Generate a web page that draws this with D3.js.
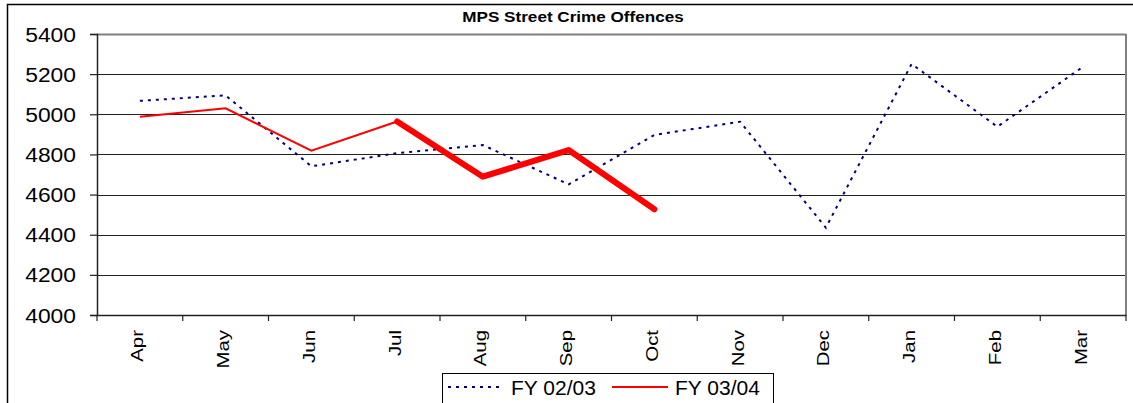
<!DOCTYPE html>
<html>
<head>
<meta charset="utf-8">
<title>MPS Street Crime Offences</title>
<script src="https://d3js.org/d3.v7.min.js"></script>
<style>
  body { margin: 0; background: #fff; }
  svg { display: block; font-family: "Liberation Sans", Arial, sans-serif; }
</style>
</head>
<body>
<div id="chart"></div>
<script>
// data
var months = ["Apr", "May", "Jun", "Jul", "Aug", "Sep", "Oct", "Nov", "Dec", "Jan", "Feb", "Mar"];
var fy0203 = [5067, 5094, 4741, 4806, 4847, 4651, 4897, 4963, 4435, 5251, 4938, 5237];
var fy0304 = [4988, 5030, 4819, 4964, 4689, 4822, 4527];
var yTicks = [4000, 4200, 4400, 4600, 4800, 5000, 5200, 5400];
var seriesNames = ["FY 02/03", "FY 03/04"];

var W = 1133, H = 403;
var margin = { top: 34, right: 7, bottom: 88, left: 97 },
  width = W - margin.left - margin.right,
  height = H - margin.top - margin.bottom;

var svg = d3.select("#chart").append("svg")
  .attr("width", W)
  .attr("height", H);

// outer frame (only top & left visible)
svg.append("rect")
  .attr("x", 7.5).attr("y", 4.5)
  .attr("width", W + 20).attr("height", H + 20)
  .attr("fill", "none").attr("stroke", "#000").attr("stroke-width", 1.5);

svg.append("text")
  .attr("transform", "translate(573,22) scale(1.14,1)")
  .attr("text-anchor", "middle")
  .style("font-size", "15px").style("font-weight", "bold")
  .text("MPS Street Crime Offences");

var g = svg.append("g")
  .attr("transform", "translate(" + margin.left + "," + margin.top + ")");

var x = d3.scaleBand().domain(months).range([0, width]);
var y = d3.scaleLinear().domain([4000, 5400]).range([height, 0]);

// gridlines
g.selectAll(".grid")
  .data(yTicks.slice(1))
  .enter().append("line")
  .attr("x1", 0).attr("x2", width)
  .attr("y1", function (d) { return Math.round(y(d)) + 0.5; })
  .attr("y2", function (d) { return Math.round(y(d)) + 0.5; })
  .attr("stroke", function (d) { return d === 5400 ? "#808080" : "#222"; })
  .attr("stroke-width", function (d) { return d === 5400 ? 2 : 1.2; });

// right border
g.append("line")
  .attr("x1", width).attr("x2", width)
  .attr("y1", 0).attr("y2", height)
  .attr("stroke", "#808080").attr("stroke-width", 2);

// y axis
var yAxis = g.append("g")
  .call(d3.axisLeft(y).tickValues(yTicks).tickSize(7).tickFormat(d3.format("d")));
yAxis.select(".domain").attr("stroke", "#222").attr("stroke-width", 1.5);
yAxis.selectAll(".tick line").attr("stroke", "#222").attr("stroke-width", 1.2);
yAxis.selectAll("text")
  .style("font-size", "19.5px").attr("fill", "#000")
  .attr("x", 0).attr("dy", "0.36em")
  .attr("transform", "translate(-21,0) scale(1.17,1)");

// x axis with ticks on band edges
var xAxis = g.append("g")
  .attr("transform", "translate(0," + height + ")")
  .call(d3.axisBottom(x).tickSize(0).tickSizeOuter(0));
xAxis.select(".domain").attr("stroke", "#222").attr("stroke-width", 1.5);
xAxis.selectAll("text")
  .style("font-size", "17px").attr("fill", "#000")
  .attr("text-anchor", "end")
  .attr("x", 0).attr("y", 0).attr("dy", "0.33em")
  .attr("transform", "translate(-2,15) rotate(-90) scale(1.2,1)");
g.selectAll(".xedge")
  .data(months.concat(["end"]))
  .enter().append("line")
  .attr("x1", function (d, i) { return i * x.step(); })
  .attr("x2", function (d, i) { return i * x.step(); })
  .attr("y1", height).attr("y2", height + 6)
  .attr("stroke", "#222").attr("stroke-width", 1.2);

var line = d3.line()
  .x(function (d) { return x(d.m) + x.bandwidth() / 2; })
  .y(function (d) { return y(d.v); });

var d0203 = fy0203.map(function (v, i) { return { m: months[i], v: v }; });
var d0304 = fy0304.map(function (v, i) { return { m: months[i], v: v }; });

g.append("path")
  .datum(d0203)
  .attr("d", line)
  .attr("fill", "none")
  .attr("stroke", "#000080")
  .attr("stroke-width", 2)
  .attr("stroke-dasharray", "3,5");

// red line: thin up to Jul, thick afterwards
g.append("path")
  .datum(d0304.slice(0, 4))
  .attr("d", line)
  .attr("fill", "none")
  .attr("stroke", "#ff0000")
  .attr("stroke-width", 2);
g.append("path")
  .datum(d0304.slice(3))
  .attr("d", line)
  .attr("fill", "none")
  .attr("stroke", "#ff0000")
  .attr("stroke-width", 6)
  .attr("stroke-linejoin", "round")
  .attr("stroke-linecap", "round");

// legend
var legend = svg.append("g").attr("transform", "translate(442,373)");
legend.append("rect")
  .attr("x", 0.5).attr("y", 0.5).attr("width", 331).attr("height", 30)
  .attr("fill", "#fff").attr("stroke", "#000").attr("stroke-width", 1);
var legendItems = [
  { name: seriesNames[0], color: "#000080", dash: "3,5", x0: 6, tx: 69 },
  { name: seriesNames[1], color: "#ff0000", dash: null, x0: 170, tx: 233 }
];
legendItems.forEach(function (it) {
  legend.append("line")
    .attr("x1", it.x0).attr("x2", it.x0 + 56)
    .attr("y1", 14).attr("y2", 14)
    .attr("stroke", it.color).attr("stroke-width", 2)
    .attr("stroke-dasharray", it.dash);
  legend.append("text")
    .attr("x", it.tx).attr("y", 22)
    .style("font-size", "21px")
    .text(it.name);
});
</script>
</body>
</html>
